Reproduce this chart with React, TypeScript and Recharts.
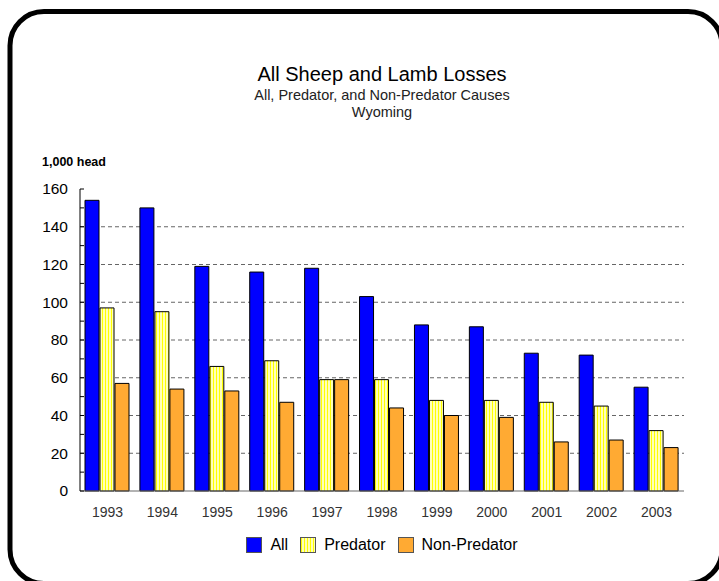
import React from "react";
import { Bar, BarChart, CartesianGrid, XAxis, YAxis } from "recharts";

const years = ["1993", "1994", "1995", "1996", "1997", "1998", "1999", "2000", "2001", "2002", "2003"];
const allLosses = [154, 150, 119, 116, 118, 103, 88, 87, 73, 72, 55];
const predatorLosses = [97, 95, 66, 69, 59, 59, 48, 48, 47, 45, 32];
const nonPredatorLosses = [57, 54, 53, 47, 59, 44, 40, 39, 26, 27, 23];

const yTicks = [0, 10, 20, 30, 40, 50, 60, 70, 80, 90, 100, 110, 120, 130, 140, 150, 160];

const seriesNames = ["All", "Predator", "Non-Predator"];
const seriesFills = ["#0000ff", "url(#predStripe)", "#ffaa33"];
const legendSwatches = [
  "#0000ff",
  "repeating-linear-gradient(90deg, #ffff00 0 1px, #ffffb8 1px 3px)",
  "#ffaa33",
];

const data = years.map((year, i) => ({
  year,
  all: allLosses[i],
  predator: predatorLosses[i],
  nonPredator: nonPredatorLosses[i],
}));

const FONT = "Arial, 'Liberation Sans', sans-serif";
const TICK_SIZE = 4;
const TICK_MARGIN = 8;

// label every 20, plus a short inward tick every 10
function YTick(props: any) {
  const { x, y, payload } = props;
  const axisX = x + TICK_SIZE + TICK_MARGIN;
  return (
    <g>
      <line x1={axisX} x2={axisX + TICK_SIZE} y1={y} y2={y} stroke="#000" />
      {payload.value % 20 === 0 && (
        <text x={x} y={y} dy="0.35em" textAnchor="end" fontSize={15.5} fontFamily={FONT} fill="#000">
          {payload.value}
        </text>
      )}
    </g>
  );
}

// only every other tick (20, 40 ... 140) gets a dashed grid line
function GridLine(props: any) {
  const { x1, y1, x2, y2, index } = props;
  const last = yTicks.length - 1;
  if (index % 2 !== 0 || index === 0 || index === last) return <g key={`g-${index}`} />;
  return <line key={`g-${index}`} x1={x1} y1={y1} x2={x2} y2={y2} stroke="#666" strokeDasharray="4 3" />;
}

export default function App() {
  return (
    <div
      style={{
        position: "absolute",
        top: 0,
        left: 0,
        width: 719,
        height: 581,
        overflow: "hidden",
        background: "#fff",
        fontFamily: FONT,
      }}
    >
      <svg width={0} height={0} style={{ position: "absolute" }}>
        <defs>
          <pattern id="predStripe" width="3" height="4" patternUnits="userSpaceOnUse">
            <rect width="3" height="4" fill="#ffffb8" />
            <rect width="1" height="4" fill="#ffff00" />
          </pattern>
        </defs>
      </svg>

      {/* rounded frame */}
      <svg width={719} height={581} style={{ position: "absolute", top: 0, left: 0 }}>
        <rect x={10} y={11.5} width={712} height={572} rx={34} fill="none" stroke="#000" strokeWidth={5} />
      </svg>

      <div style={{ position: "absolute", top: 61, left: 0, width: 764, textAlign: "center" }}>
        <div style={{ fontSize: 20, lineHeight: "26px", color: "#000" }}>All Sheep and Lamb Losses</div>
        <div style={{ fontSize: 14.5, lineHeight: "17px", color: "#222" }}>All, Predator, and Non-Predator Causes</div>
        <div style={{ fontSize: 14.5, lineHeight: "17px", color: "#222" }}>Wyoming</div>
      </div>

      <div style={{ position: "absolute", top: 155, left: 42, fontSize: 12.5, fontWeight: "bold" }}>1,000 head</div>

      <div style={{ position: "absolute", top: 0, left: 0 }}>
        <BarChart
          width={719}
          height={581}
          data={data}
          margin={{ top: 189, right: 35, bottom: 60, left: 20 }}
          barSize={14}
          barGap={1}
        >
          <CartesianGrid vertical={false} horizontal={GridLine} />
          <XAxis
            dataKey="year"
            tickLine={false}
            axisLine={{ stroke: "#666" }}
            height={30}
            tickMargin={10}
            tick={{ fontSize: 14, fill: "#333", fontFamily: FONT }}
            interval={0}
          />
          <XAxis xAxisId="top" dataKey="year" orientation="top" height={0} tick={false} tickLine={false} axisLine={{ stroke: "#222" }} />
          <YAxis
            domain={[0, 160]}
            ticks={yTicks}
            interval={0}
            width={60}
            tickSize={TICK_SIZE}
            tickMargin={TICK_MARGIN}
            tickLine={false}
            axisLine={{ stroke: "#000" }}
            tick={<YTick />}
          />
          <YAxis yAxisId="right" orientation="right" domain={[0, 160]} width={0} tick={false} tickLine={false} axisLine={{ stroke: "#888" }} />
          <Bar dataKey="all" name={seriesNames[0]} fill={seriesFills[0]} stroke="#000" strokeWidth={1} isAnimationActive={false} />
          <Bar dataKey="predator" name={seriesNames[1]} fill={seriesFills[1]} stroke="#000" strokeWidth={1} isAnimationActive={false} />
          <Bar dataKey="nonPredator" name={seriesNames[2]} fill={seriesFills[2]} stroke="#000" strokeWidth={1} isAnimationActive={false} />
        </BarChart>
      </div>

      <div
        style={{
          position: "absolute",
          top: 536,
          left: 0,
          width: 764,
          display: "flex",
          justifyContent: "center",
          alignItems: "center",
          fontSize: 16,
          color: "#000",
        }}
      >
        {seriesNames.map((name, i) => (
          <div key={name} style={{ display: "flex", alignItems: "center", marginRight: i < 2 ? 12 : 0 }}>
            <span
              style={{
                display: "inline-block",
                width: 14,
                height: 14,
                background: legendSwatches[i],
                border: "1px solid #555",
                marginRight: 8,
              }}
            />
            <span>{name}</span>
          </div>
        ))}
      </div>
    </div>
  );
}
